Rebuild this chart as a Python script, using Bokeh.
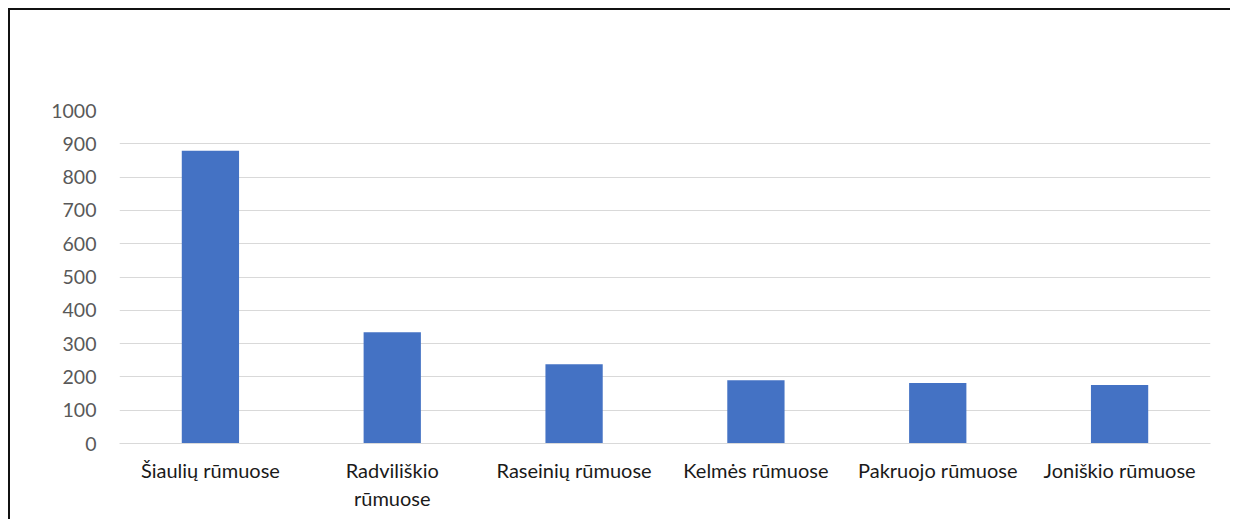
from bokeh.plotting import figure
from bokeh.models import FactorRange, Range1d, FixedTicker, ColumnDataSource
from bokeh.embed import file_html
from bokeh.resources import INLINE

categories = ["Šiaulių rūmuose", "Radviliškio\nrūmuose", "Raseinių rūmuose",
              "Kelmės rūmuose", "Pakruojo rūmuose", "Joniškio rūmuose"]
values = [879, 334, 238, 190, 182, 176]
y_ticks = [0, 100, 200, 300, 400, 500, 600, 700, 800, 900, 1000]

src = ColumnDataSource(dict(cat=categories, val=values))

p = figure(width=1222, height=511, output_backend="svg", toolbar_location=None,
           x_range=FactorRange(*categories, range_padding=0),
           y_range=Range1d(0, 1000),
           min_border_left=109, min_border_right=22, min_border_top=100, min_border_bottom=78)
p.styles = {"box-shadow": "-2px -2px 0px 0px #111111",
            "margin-left": "10px", "margin-top": "10px",
            "border": "0px", "outline": "none", "overflow": "hidden",
            "background-color": "white"}

p.vbar(x="cat", top="val", width=0.315, source=src, color="#4472C4", line_color=None)

p.outline_line_color = None
p.background_fill_color = "white"
p.border_fill_color = "white"
p.border_fill_alpha = 1.0

p.ygrid.grid_line_color = "#d9d9d9"
p.ygrid.grid_line_width = 1
p.xgrid.grid_line_color = None

p.yaxis.ticker = FixedTicker(ticks=y_ticks)
p.yaxis.axis_line_color = None
p.yaxis.major_tick_line_color = None
p.yaxis.minor_tick_line_color = None
p.yaxis.major_label_text_font = "Lato"
p.yaxis.major_label_text_font_size = "19.5px"
p.yaxis.major_label_text_color = "#595959"
p.yaxis.major_label_standoff = 17

p.xaxis.axis_line_color = "#d9d9d9"
p.xaxis.major_tick_line_color = None
p.xaxis.minor_tick_line_color = None
p.xaxis.major_label_text_font = "Lato"
p.xaxis.major_label_text_font_size = "20px"
p.xaxis.major_label_text_color = "#1a1a1a"
p.xaxis.major_label_standoff = 8

open("out.html", "w").write(file_html(p, INLINE))
